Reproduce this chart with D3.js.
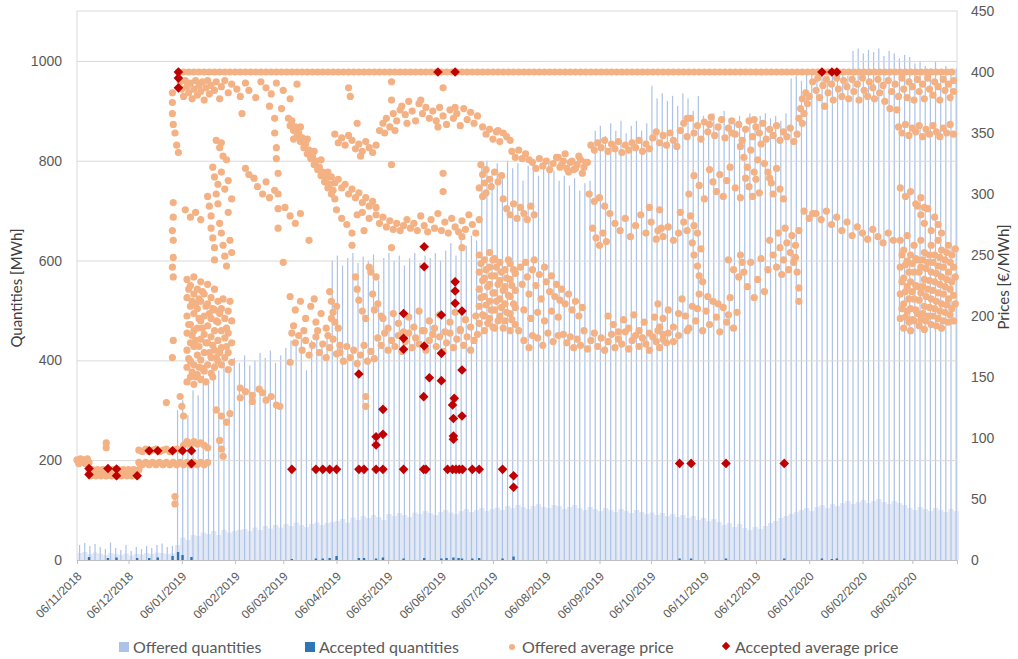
<!DOCTYPE html>
<html>
<head>
<meta charset="utf-8">
<script src="https://cdn.jsdelivr.net/npm/d3@7"></script>
<style>
  body { margin: 0; background: #fff; }
  svg { display: block; font-family: Lato, "Open Sans", sans-serif; }
</style>
</head>
<body>
<svg id="chart" width="1018" height="659"></svg>
<script>
// ---- Data -------------------------------------------------------------
// Day numbers count from the first delivery day of the series.
const seriesStart = "2018-11-06";
const axisEnd = "2020-04-01";
const monthTicks = ["06/11/2018","06/12/2018","06/01/2019","06/02/2019","06/03/2019","06/04/2019",
  "06/05/2019","06/06/2019","06/07/2019","06/08/2019","06/09/2019","06/10/2019","06/11/2019",
  "06/12/2019","06/01/2020","06/02/2020","06/03/2020"];
const qtyTicks = [0, 200, 400, 600, 800, 1000];
const priceTicks = [0, 50, 100, 150, 200, 250, 300, 350, 400, 450];

// Offered quantities [MWh], one entry per 3-day block: highest block and base level
const blockDays = 3;
const offeredPeak = [
  30,34,28,32,26,22,35,24,20,30,18,26,22,28,24,30,33,26,28,
  300,320,290,340,330,370,355,395,380,400,385,405,395,410,390,400,415,405,420,395,
  410,425,440,430,445,380,440,450,430,455,
  600,610,590,605,615,595,608,600,612,560,605,615,600,610,590,605,615,595,610,605,
  615,600,620,635,610,645,630,650,640,
  790,800,780,795,770,800,785,795,760,790,800,770,795,805,780,760,770,750,765,740,755,760,
  860,870,850,875,860,880,855,870,880,860,875,
  950,925,935,920,930,910,935,925,900,930,890,880,895,870,900,885,875,890,860,895,
  880,890,895,885,890,880,895,
  965,970,960,975,980,965,975,970,980,960,975,970,
  1020,1025,1015,1022,1018,1025,1010,1020,1015,1005,1012,1008,995,1000,990,985,998,975,990,980,985
];
const offeredBase = [
  14,16,12,15,13,10,14,12,10,13,9,12,11,14,12,15,14,12,13,
  30,45,40,50,48,55,52,58,50,60,55,58,
  60,62,58,65,60,68,63,70,65,72,68,75,70,66,72,75,70,74,76,
  78,82,75,85,80,88,84,90,86,80,92,88,94,90,86,95,92,98,94,90,96,100,95,92,98,102,96,100,104,98,102,
  105,100,108,104,110,106,102,108,112,106,104,110,108,102,106,110,104,100,106,102,98,104,100,96,102,98,94,100,96,92,
  95,90,94,88,92,86,90,84,88,80,84,78,82,76,70,74,66,72,64,60,66,62,68,74,78,84,88,
  92,96,100,104,98,106,110,104,112,108,114,118,112,116,120,114,118,122,116,112,118,114,110,104,100,106,102,98,104,100,96,102,98
];

// Accepted quantities [day, MWh]
const acceptedQty = [[7,6],[18,4],[23,5],[35,4],[42,4],[47,5],[55.6,8],[58.8,16],[61.4,10],[66.6,6],
  [125,2],[139,3],[143,3],[147,4],[151,8],[164,4],[167,4],[174,3],[178,5],[190,3],[202,4],[212,3],
  [215,4],[219,5],[222,4],[224,3],[230,3],[234,4],[247.6,3],[254,7],[350.6,3],[357.3,3],[377.6,3],
  [411.5,3],[433.4,3],[439.2,2],[442.1,3]];

// Offered average price at the 400 €/MWh cap, every 3 days from day 59
const capFromDay = 59;
const capStepDays = 3;
const offeredCapPrice = [
  400,400,400,400,400,400,400,400,400,400,400,400,400,400,400,400,400,400,400,400,400,400,400,400,400,
  400,400,400,400,400,400,400,400,400,400,400,400,400,400,400,400,400,400,400,400,400,400,400,400,400,
  400,400,400,400,400,400,400,400,400,400,400,400,400,400,400,400,400,400,400,400,400,400,400,400,400,
  400,400,400,400,400,400,400,400,400,400,400,400,400,400,400,400,400,400,400,400,400,400,400,400,400,
  400,400,400,400,400,400,400,400,400,400,400,400,400,400,400,400,400,400,400,400,400,400,400,400,400,
  400,400,400,400,400,400,400,400,400,400,400,400,400,400,400,400,400,400,400,400,400,400,400,400,400,
  400
];

// Offered average price [day, €/MWh]
const offeredPrice2018 = [
  [0,82],[1,79],[2,83],[3,80],[4,82],[5,79],[6,83],[7,80],
  [7,72],[8,69],[9,74],[10,71],[11,69],[12,74],[13,71],[14,69],[15,74],[16,71],[17,69],[18,74],[19,71],
  [20,69],[21,74],[22,71],[23,69],[24,74],[25,71],[26,69],[27,74],[28,71],[29,69],[30,74],[31,71],
  [32,69],[33,74],[34,71],[35,69],[36,74],[17,92],[17,96],
  [36,80],[38,78],[40,80],[42,78],[44,80],[46,78],[48,80],[50,78],[52,80],[54,78],[56,80],
  [36,90],[38,89],[40,91],[42,89],[44,90],[46,91],[48,89],[50,90],[52,91],[54,89],[56,90],[52,129]
];
const offeredPriceQ1 = [
  [58,78],[60,80],[62,78],[64,80],[66,78],[68,80],[70,78],[72,80],[74,78],[76,80],
  [58,91],[60,90],[62,94],[64,97],[66,95],[68,97],[70,95],[72,96],[74,94],[76,92],
  [55.5,383],[55.5,375],[55.5,366],[56,357],[56,293],[56,281],[55.5,270],[56,262],[56,248],[55.5,240],
  [56,232],[56,180],[55.5,166],[57,52],[57,46],
  [60,392],[61,386],[62,380],[63,393],[64,388],[65,383],[66,391],[67,378],[68,386],[69,393],[70,381],
  [71,389],[72,384],[73,392],[74,377],[75,387],[76,393],[77,382],[78,389],[80,385],[81,392],[83,378],
  [84,388],[86,393],[88,383],[90,390],[93,386],[95,380],[98,391],[100,385],[104,379],[107,392],[110,387],
  [113,382],[116,391],[120,385],[124,378],[128,390],[96,366],[112,372],[119,370],
  [57,350],[58,340],[59,334],[81,344],[83,338],[85,331],[87,328],[84,342],
  [63,287],[66,281],[69,285],[72,279],
  [76,298],[77,290],[78,282],[78,272],[79,264],[80,256],[80,246],[81,300],[82,292],[83,276],[84,268],
  [85,258],[86,249],[87,241],[88,285],[89,262],[90,252],
  [79,322],[80,314],[82,308],[84,318],[86,304],[88,311],[90,296],
  [64,230],[64,215],[64,200],[64,186],[64,172],[64,158],[64,146],
  [65,222],[65,193],[65,165],[67,212],[67,184],[67,154],
  [66,225],[66,208],[66,193],[66,178],[66,163],[66,150],
  [68,232],[68,218],[68,202],[68,188],[68,175],[68,160],[68,144],
  [69,210],[69,180],[69,150],[71,214],[71,198],[71,175],[71,158],
  [70,222],[70,206],[70,190],[70,168],[70,152],
  [72,228],[72,212],[72,196],[72,181],[72,164],[72,148],
  [73,220],[73,190],[73,157],[75,208],[75,178],[75,146],
  [74,218],[74,200],[74,185],[74,170],[74,155],
  [76,226],[76,210],[76,192],[76,178],[76,160],
  [77,202],[77,170],[79,206],[79,176],[79,150],
  [78,215],[78,198],[78,183],[78,166],[78,153],
  [80,222],[80,205],[80,188],[80,172],[80,158],
  [81,196],[81,166],[83,202],[83,170],
  [82,212],[82,195],[82,180],[82,163],
  [84,206],[84,188],[84,174],[84,160],
  [86,198],[86,182],[86,166],[85,214],[87,190],[87,175],
  [88,204],[88,186],[88,170],[88,156],
  [90,196],[90,178],[90,162],[89,212],
  [60,134],[61,126],[62,118],[81,123],[84,118],[87,113],[89,120],[83,98],[84,91],[85,85],
  [95,141],[95,133],[98,138],[102,135],[102,130],[106,140],[108,137],[110,131],[113,134],[116,127],[118,126],
  [98,321],[100,316],[103,313],[105,306],[108,300],[110,310],[112,297],[115,303],
  [115,362],[115,350],[116,338],[116,329],[117,317],[117,300],[117,288],[117,272],
  [121,289],[124,282],[127,276],[130,284],[135,262],[120,244],
  [123,362],[124,356],[125,360],[126,352],[127,355],[128,347],[129,350],[130,343],[131,346],[132,338],
  [133,341],[134,333],[135,336],[136,329],[137,331],[138,324],[139,327],[140,320],[141,322],[142,315],
  [143,318],[144,310],[145,313],[146,305],[147,308],[148,300],[149,303],[150,296],
  [126,345],[130,355],[134,345],[138,335],[142,328],[146,318],
  [124,216],[127,205],[130,212],[133,198],[136,208],[139,195],[142,202],[145,190],[148,198],[126,192],[138,214],
  [125,186],[127,178],[129,184],[131,172],[133,180],[135,168],[137,176],[139,183],[141,170],[143,177],
  [145,166],[147,174],[149,181],[151,169],[153,176],[132,188],[140,188],[146,184],[124,162]
];
const offeredPriceQ2 = [
  [150,349],[152,342],[154,346],[156,340],[158,348],
  [160,344],[162,337],[164,341],[166,335],[168,343],[170,338],[172,334],[174,340],
  [176,352],[178,358],[180,362],[182,355],[184,366],[186,360],[188,369],[179,350],[185,352],
  [189,372],[191,365],[193,376],[195,368],[197,360],[199,374],[201,366],[203,371],[205,362],[192,358],[200,377],
  [207,368],[209,360],[211,371],[213,364],[215,357],[217,369],[219,362],[221,366],[223,356],[225,370],
  [227,361],[229,367],[231,358],[233,364],[210,355],[220,371],
  [158,387],[159,380],[183,392],[183,377],[213,387],
  [163,358],[165,331],[183,324],[213,317],[213,302],
  [148,314],[150,309],[152,312],[154,305],[156,308],[158,300],[160,304],[162,297],[164,301],[166,293],
  [168,297],[170,290],[172,294],[174,289],
  [166,285],[170,280],[174,283],[176,276],[178,281],[180,273],[182,278],[184,271],[186,276],[188,270],
  [190,274],[192,279],[194,272],
  [196,276],[198,270],[200,282],[202,274],[204,269],[206,279],[208,272],[210,284],[212,270],[214,277],
  [216,268],[218,280],[220,273],[222,269],[224,278],[226,271],[228,283],[230,275],[232,268],[234,279],
  [151,287],[154,280],[157,275],[160,268],[163,283],[167,270],[160,258],[183,256],[224,265],[224,256],
  [147,220],[148,212],[149,203],[150,195],[151,208],[152,190],
  [162,232],[163,222],[164,213],[166,204],[168,198],[170,240],[171,236],[172,218],[174,232],[175,210],[177,200],[173,205],
  [178,198],[181,190],[184,202],[187,194],[190,187],[193,199],[196,191],[199,204],[202,188],[205,196],
  [208,190],[211,201],[214,187],[217,195],[220,203],[223,189],[226,197],[229,191],[232,200],
  [153,170],[155,163],[157,175],[159,166],[161,172],[163,161],[165,168],[167,176],[169,163],[171,171],[173,165],
  [175,182],[177,176],[179,186],[181,172],[183,180],[185,175],[187,184],[189,171],[191,179],[193,186],
  [195,174],[197,182],[199,177],[201,188],[203,172],[205,180],[207,185],[209,175],[211,183],[213,171],
  [215,178],[217,186],[219,174],[221,181],[223,188],[225,176],[227,183],[229,172],[231,180],[233,185],
  [168,134],[168,126]
];
const offeredPriceQ3 = [
  [236,355],[238,349],[240,353],[242,345],[244,351],[246,343],[248,350],[250,347],[252,344],[245,352],
  [235,324],[236,316],[237,309],[238,320],[240,312],[241,306],[243,318],[245,310],[247,315],
  [253,335],[255,330],[257,336],[259,329],[261,333],[263,328],
  [265,326],[267,321],[269,329],[271,323],[273,327],[275,320],[277,325],[279,330],[281,322],[283,327],
  [285,321],[287,326],[289,320],[291,324],[293,328],[295,322],[297,326],
  [234,305],[236,298],[238,301],
  [248,296],[250,288],[252,283],[254,292],[256,280],[258,289],[260,284],[262,279],[264,290],[266,283],
  [234,250],[234,236],[234,222],[234,208],[234,194],
  [235,243],[235,215],[236,229],[236,201],
  [237,246],[237,231],[237,216],[237,200],[237,188],
  [238,238],[238,209],[239,224],[239,194],
  [240,252],[240,240],[240,226],[240,212],[240,198],
  [241,233],[241,205],[242,246],[242,219],[242,191],
  [243,247],[243,233],[243,219],[243,205],[243,190],
  [244,240],[244,212],[245,226],[245,196],
  [246,244],[246,229],[246,214],[246,200],
  [247,236],[247,207],[248,221],[248,190],
  [249,238],[249,224],[249,210],[249,196],
  [250,231],[250,203],[251,246],[251,217],
  [252,243],[252,230],[252,216],[252,202],[252,188],
  [253,225],[253,197],[254,238],[254,210],
  [255,235],[255,221],[255,207],[255,193],
  [258,240],[259,226],[261,244],[262,232],[263,218],[265,238],[266,246],[267,225],[269,234],[270,214],
  [272,240],[273,228],[275,220],[276,233],[278,216],[279,226],[281,213],[282,222],[284,210],[286,218],
  [288,205],[290,212],[292,200],[294,207],[260,205],[264,198],[268,203],[272,196],[276,204],[280,199],
  [298,300],[301,294],[304,297],[307,290],
  [300,272],[302,264],[304,258],[306,268],[308,261],
  [310,284],[313,276],[316,270],[319,280],[322,265],[325,274],[328,283],[331,268],[334,277],[337,263],[340,272],
  [333,289],[339,287],
  [309,200],[312,193],[315,187],[318,197],[321,190],[324,201],[327,188],[330,195],[333,186],[336,199],[339,191],
  [283,185],[285,178],[287,183],[289,174],[291,181],[293,176],[295,188],[297,173],[299,180],[301,186],
  [303,175],[305,182],[307,172],[309,179],[311,185],[313,174],[315,181],[317,177],[319,187],[321,173],
  [323,180],[325,184],[327,175],[329,182],[331,177],[333,172],[335,183],[337,179],[339,174],[341,185],[343,178],
  [257,188],[260,180],[263,174],[265,184],[268,182],[271,176],[274,186],[277,179],[280,184],
  [299,340],[301,336],[303,342],[305,338],[307,344],[309,335],[311,341],[313,337],[315,343],[317,334],
  [319,340],[321,336],[323,342],[325,338],[327,344],[329,335],[331,341],[333,337],
  [280,330],[282,324],[284,333],[286,318],[288,327],[290,321],[292,331],[294,317],[296,326],
  [335,346],[337,351],[339,342],[341,348],[343,340],[345,350],[347,344],[349,339]
];
const offeredPriceQ4 = [
  [351,352],[353,358],[355,347],[357,362],[359,350],[361,356],[363,345],[365,359],[367,351],[369,363],
  [371,348],[373,355],[375,361],[377,346],[379,354],[381,360],[383,349],[385,357],[387,344],[389,353],
  [391,360],[393,347],[395,355],[397,350],[399,358],[401,345],[403,353],[405,348],[407,356],[409,344],
  [411,351],[413,347],[415,354],[417,343],[419,349],[355,362],[368,357],[381,350],[394,361],
  [420,362],[421,370],[422,378],[423,366],[424,383],[425,374],[426,380],[422,358],
  [356,300],[359,315],[362,307],[365,296],[368,320],[370,310],[372,302],[374,316],[376,298],[378,311],
  [380,322],[383,305],[386,297],[389,313],
  [386,339],[388,330],[390,322],[392,336],[394,318],[396,328],[398,341],[400,325],
  [391,306],[393,298],[395,312],[397,301],
  [402,318],[404,309],[405,300],[407,321],[409,304],[411,296],[403,313],
  [338,270],[341,265],[344,273],[347,262],[350,268],
  [351,285],[353,277],[355,270],[357,282],[359,274],[361,268],
  [338,210],[341,198],[344,205],[347,191],[350,202],
  [352,214],[354,200],[356,190],[358,208],[360,196],[362,218],[364,188],[366,204],[368,193],[370,212],
  [372,199],[374,187],[376,207],[378,195],[380,215],[382,190],[384,203],[355,188],[361,206],[367,216],
  [373,210],[379,201],
  [358,260],[359,250],[361,241],[362,233],[364,228],[363,255],
  [379,246],[382,238],[385,232],[387,244],
  [386,250],[388,236],[390,224],[392,244],[394,215],[396,230],[398,247],[400,220],[402,238],
  [403,262],[405,250],[407,240],[408,268],[409,256],[410,234],[411,246],[412,272],[413,260],[414,238],
  [415,252],[416,266],[417,244],[418,258],[419,236],[420,270],[418,248],
  [420,223],[420,212],[423,286],[426,280],[428,284],
  [338,188],[341,181],[344,186],[347,179],[350,184]
];
const offeredPrice2020 = [
  [428,392],[430,385],[431,395],[432,379],[434,389],[435,372],[436,394],[437,383],[439,390],[440,377],
  [442,395],[443,386],[445,380],[446,393],[448,388],[449,378],[451,394],[452,384],[454,390],[455,377],
  [457,395],[458,385],[460,380],[461,392],[463,387],[464,378],[466,394],[467,383],[469,389],[470,376],
  [472,393],[473,370],[474,384],[476,390],[477,369],[478,380],[480,395],[481,386],[483,379],[484,392],
  [486,388],[487,377],[489,394],[490,384],[492,390],[493,378],[495,395],[496,386],[498,381],[499,392],
  [501,388],[502,377],[504,394],[505,385],[507,390],[508,379],[510,393],[510,384],
  [478,355],[480,350],[482,357],[484,348],[486,354],[488,351],[490,356],[492,347],[494,353],[496,349],
  [498,356],[500,351],[502,347],[504,354],[506,350],[508,357],[510,349],
  [430,284],[433,279],[436,286],[439,275],[442,281],[445,270],[448,277],[451,266],[454,273],[457,268],
  [460,263],[463,271],[466,265],[469,260],[472,268],[475,262],
  [479,305],[482,298],[485,302],[488,292],[491,297],[493,289],
  [489,290],[491,283],[493,276],[495,288],[497,270],[499,281],[501,275],[503,268],
  [479,262],[479,240],[479,218],[479,198],[481,254],[481,231],[481,210],[481,190],
  [480,250],[480,228],[480,206],[482,242],[482,220],[482,199],
  [483,266],[483,245],[483,224],[483,204],[485,250],[485,228],[485,206],[485,188],
  [484,236],[484,214],[484,195],[486,243],[486,220],[486,197],
  [487,258],[487,236],[487,214],[487,196],[489,246],[489,224],[489,202],
  [488,247],[488,225],[488,205],[490,236],[490,213],[490,192],
  [491,262],[491,240],[491,219],[491,197],[493,252],[493,230],[493,208],[493,189],
  [492,246],[492,224],[492,202],[494,239],[494,216],[494,196],
  [495,244],[495,222],[495,200],[497,258],[497,236],[497,214],[497,193],
  [496,250],[496,229],[496,207],[498,244],[498,221],[498,200],
  [499,250],[499,228],[499,206],[501,262],[501,241],[501,219],[501,198],
  [500,235],[500,212],[500,192],[502,248],[502,226],[502,204],
  [503,254],[503,232],[503,210],[503,190],[505,246],[505,224],[505,203],
  [504,240],[504,218],[504,196],[506,252],[506,230],[506,209],
  [507,258],[507,236],[507,214],[507,195],[509,250],[509,228],[509,206],
  [508,244],[508,222],[508,201],[510,240],[510,217],[510,196],
  [511,255],[511,232],[511,210]
];

// Accepted average price [day, €/MWh]
const acceptedPrice = [
  [7,75],[7,70],[18,75],[23,74.6],[23,69],[35,69],[42,89.6],[47,89.6],[55.6,89.6],[61.4,89.6],
  [66.6,89.6],[66.6,79],[59,400],[59,395],[59,387],
  [125,74.3],[139,74.3],[143,74.3],[147,74.3],[151,74.3],[164,74.3],[167,74.3],[174,74.3],[178,74.3],
  [190,74.3],[201.7,74.3],[203,74.3],[215.6,74.3],[218.5,74.3],[220.5,74.3],[222.4,74.3],[224.3,74.3],
  [230,74.3],[234,74.3],[247.6,74.3],[254,69],[254,59.6],
  [164,152.5],[174,101],[174,94.3],[178,123.5],[178,103],
  [190,181.7],[190,172.7],[190,202],
  [202,256.8],[202,240.4],[202,175.4],[205,149.4],[201.7,133.9],
  [212,200.8],[212,169.4],[212,147],
  [220,228],[220,220.5],[220,210.4],[224,204],[224,155.7],[219.5,132.5],[218.5,127],[219,116],[224,118],
  [219,101.6],[219,99],
  [210,400],[220,400],
  [350.6,79.2],[357.3,79.2],[377.6,79.2],[411.5,79.2],
  [433.4,400],[439.2,400],[442.1,400]
];

// ---- Layout & scales ---------------------------------------------------
const plot = { left: 77, right: 957, top: 11, bottom: 560 };
const colors = {
  offeredQty: "#adc2e6", offeredBase: "#e1e8f5", acceptedQty: "#2e75b6",
  offeredPrice: "#f4b183", acceptedPrice: "#c00000",
  grid: "#d9d9d9", text: "#595959", title: "#404040"
};

const parseDay = d3.utcParse("%Y-%m-%d");
const parseTick = d3.utcParse("%d/%m/%Y");
const t0 = parseDay(seriesStart);
const dayDate = d => new Date(t0.getTime() + d * 864e5);

const x = d3.scaleUtc().domain([t0, parseDay(axisEnd)]).range([plot.left, plot.right]);
const yQty = d3.scaleLinear().domain([0, 1100]).range([plot.bottom, plot.top]);
const yPrice = d3.scaleLinear().domain([0, 450]).range([plot.bottom, plot.top]);

const svg = d3.select("#chart");

// plot frame
svg.append("rect")
  .attr("x", plot.left).attr("y", plot.top)
  .attr("width", plot.right - plot.left).attr("height", plot.bottom - plot.top)
  .attr("fill", "none").attr("stroke", colors.grid);

// offered quantity blocks: base level as filled blocks, highest block as a thin line
const blocks = offeredPeak.map((v, i) => ({ i, peak: v, base: offeredBase[i] }));
const barLayer = svg.append("g");
barLayer.selectAll("rect.base").data(blocks).join("rect")
  .attr("class", "base")
  .attr("x", d => x(dayDate(d.i * blockDays)))
  .attr("width", d => x(dayDate((d.i + 1) * blockDays)) - x(dayDate(d.i * blockDays)) + 0.2)
  .attr("y", d => yQty(d.base))
  .attr("height", d => yQty(0) - yQty(d.base))
  .attr("fill", colors.offeredBase);
barLayer.selectAll("rect.peak").data(blocks).join("rect")
  .attr("class", "peak")
  .attr("x", d => x(dayDate(d.i * blockDays + blockDays / 2)) - 0.6)
  .attr("width", 1.2)
  .attr("y", d => yQty(d.peak))
  .attr("height", d => yQty(0) - yQty(d.peak))
  .attr("fill", colors.offeredQty);

// accepted quantities
barLayer.selectAll("rect.acc").data(acceptedQty).join("rect")
  .attr("class", "acc")
  .attr("x", d => x(dayDate(d[0])) - 1.2)
  .attr("width", 2.4)
  .attr("y", d => yQty(d[1]))
  .attr("height", d => yQty(0) - yQty(d[1]))
  .attr("fill", colors.acceptedQty);

// horizontal gridlines from the quantity axis
const grid = svg.append("g").attr("transform", `translate(${plot.left},0)`)
  .call(d3.axisLeft(yQty).tickValues(qtyTicks).tickSize(-(plot.right - plot.left)).tickFormat(""));
grid.select(".domain").remove();
grid.selectAll("line").attr("stroke", colors.grid);

// x axis
const xAxis = svg.append("g").attr("transform", `translate(0,${plot.bottom})`)
  .call(d3.axisBottom(x).tickValues(monthTicks.map(parseTick)).tickSize(4)
    .tickFormat(d3.utcFormat("%d/%m/%Y")));
xAxis.select(".domain").attr("stroke", "#bfbfbf");
xAxis.selectAll(".tick line").attr("stroke", "#bfbfbf");
xAxis.selectAll(".tick text")
  .attr("fill", colors.text).attr("font-size", 12)
  .attr("text-anchor", "end")
  .attr("x", 0).attr("y", 0).attr("dy", "0.35em")
  .attr("transform", "translate(2,14) rotate(-45)");

// left axis
const yLeft = svg.append("g").attr("transform", `translate(${plot.left},0)`)
  .call(d3.axisLeft(yQty).tickValues(qtyTicks).tickSize(0).tickPadding(15).tickFormat(d3.format("d")));
yLeft.select(".domain").remove();
yLeft.selectAll("text").attr("fill", colors.text).attr("font-size", 14);

// right axis
const yRight = svg.append("g").attr("transform", `translate(${plot.right},0)`)
  .call(d3.axisRight(yPrice).tickValues(priceTicks).tickSize(0).tickPadding(14).tickFormat(d3.format("d")));
yRight.select(".domain").remove();
yRight.selectAll("text").attr("fill", colors.text).attr("font-size", 14);

// offered average prices
const offered = [].concat(
  offeredCapPrice.map((p, i) => [capFromDay + i * capStepDays, p]),
  offeredPrice2018, offeredPriceQ1, offeredPriceQ2, offeredPriceQ3, offeredPriceQ4, offeredPrice2020
);
svg.append("g").selectAll("circle").data(offered).join("circle")
  .attr("cx", d => x(dayDate(d[0])))
  .attr("cy", d => yPrice(d[1]))
  .attr("r", 3.6)
  .attr("fill", colors.offeredPrice);

// accepted average prices (diamonds)
const diamond = (cx, cy, r) => `M${cx},${cy - r}L${cx + r},${cy}L${cx},${cy + r}L${cx - r},${cy}Z`;
svg.append("g").selectAll("path").data(acceptedPrice).join("path")
  .attr("d", d => diamond(x(dayDate(d[0])), yPrice(d[1]), 4.8))
  .attr("fill", colors.acceptedPrice);

// axis titles
svg.append("text")
  .attr("transform", "translate(17,288) rotate(-90)")
  .attr("text-anchor", "middle").attr("dy", "0.35em")
  .attr("font-size", 15).attr("fill", colors.title)
  .text("Quantities [MWh]");
svg.append("text")
  .attr("transform", "translate(1004,277) rotate(-90)")
  .attr("text-anchor", "middle").attr("dy", "0.35em")
  .attr("font-size", 15).attr("fill", colors.title)
  .text("Prices [€/MWh]");

// legend
const legendY = 647;
const legendItems = [
  { label: "Offered quantities", x: 119, kind: "square", color: colors.offeredQty },
  { label: "Accepted quantities", x: 305, kind: "square", color: colors.acceptedQty },
  { label: "Offered average price", x: 508, kind: "dot", color: colors.offeredPrice },
  { label: "Accepted average price", x: 721, kind: "diamond", color: colors.acceptedPrice }
];
const legend = svg.append("g");
legendItems.forEach(it => {
  if (it.kind === "square") {
    legend.append("rect").attr("x", it.x).attr("y", legendY - 5).attr("width", 10).attr("height", 10)
      .attr("fill", it.color);
  } else if (it.kind === "dot") {
    legend.append("circle").attr("cx", it.x + 4).attr("cy", legendY).attr("r", 3).attr("fill", it.color);
  } else {
    legend.append("path").attr("d", diamond(it.x + 5, legendY - 1, 4.2)).attr("fill", it.color);
  }
  legend.append("text")
    .attr("x", it.x + 14).attr("y", legendY).attr("dy", "0.35em")
    .attr("font-size", 16).attr("fill", colors.text)
    .text(it.label);
});
</script>
</body>
</html>
